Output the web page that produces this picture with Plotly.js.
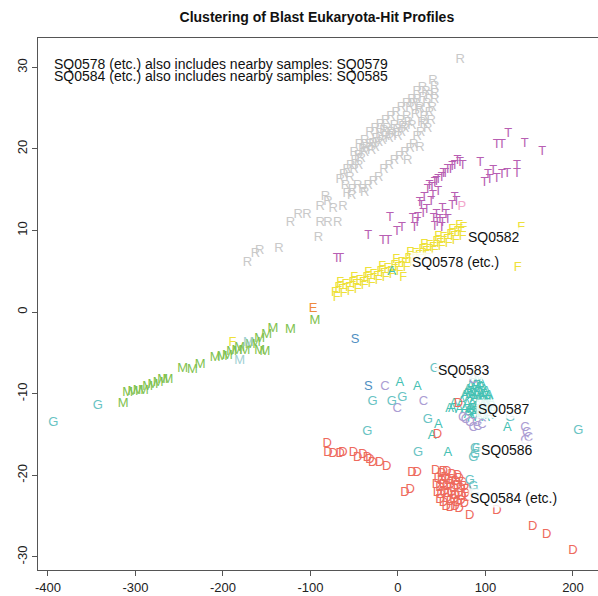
<!DOCTYPE html>
<html>
<head>
<meta charset="utf-8">
<script src="https://cdn.plot.ly/plotly-3.0.1.min.js"></script>
<style>html,body{margin:0;padding:0;background:#fff;}#chart{width:598px;height:596px;}</style>
</head>
<body>
<div id="chart"></div>
<script>
// ---- data ----
const R_x = [-172,-163,-158,-136,-91,-123,-114,-104,-89,-80,-69,-89,-83,-74,-63,-53,-38,-80,
  -66,-62,-58,-54,-49,-45,-40,-36,-32,-28.6,-25,-20.6,-16,-12.6,-8,-4,-1,3,5.7,10,16,13.7,18,21.7,25,27.4,28.6,32,36,
  -60,-55,-50,-45,-42,-38,-30,-26,-22,-18,-14,-10,-6,0,4,8,12,20,24,
  30,33,36,38,34,30,26,22,18,14,8,2,-4,-10,-16,-22,-28,-34,-40,-46,-52,-58,
  -50,-44,-38,-32,-26,-20,-14,-8,-2,4,10,16,22,28,
  11,25,40,42,42,42,39,71];
const R_y = [6.1,7.2,7.5,7.8,9.1,10.9,11.9,11.9,10.9,10.9,10.9,12.9,14.1,12.7,12.9,14.3,14.6,13.5,
  16.2,16.8,17.4,18,18.6,19.2,19.9,20.2,20.5,20.7,21.3,21.9,22.2,22.5,22.0,22.8,22.3,23.5,22.7,24,22.9,25.1,25.5,26,25,23.2,26.3,27,26.5,
  15.5,16.5,17.5,18,18.8,19.5,19.8,20.2,20.8,21,21.5,21.2,21.8,21.5,22,22.5,23.2,24.2,24.8,
  24,25.5,24.5,23.5,22.5,23,22,21.5,20.5,20,19.5,19,18.5,18,17.5,16.5,16,15.5,15,15.5,15,14.5,
  19.5,20.5,21,22,22.5,23,23.5,24,24.5,25,25.5,26,27,27.5,
  18.6,20.1,28.4,27.6,26.8,26,25,30.9];

const T_x = [-70,-66,-34,-17,-11,-1,4.6,-9,19,22,17,23,29,33,25,27,41,45,48,51,57,51,65,67,
  34,39,42,46,50,54,57,62,65,71,74,40,46,94,99,105,113,119,125,136,136,113,119,126,145,165,
  36,44,52,60,68,30,38,44,55,62,42,50,103,109];
const T_y = [6.6,6.6,9.4,8.8,8.8,9.8,10.4,11.6,10.3,10.9,11.5,11.6,12.1,12.5,13.4,13.1,11.4,11,11.3,10.9,11.3,12.7,14,13.5,
  15,15.3,15.8,16.2,16.5,17,17.4,17.8,18,18.3,18,14.3,14.7,18.3,15.9,16.2,16.4,16.8,17,18,17,20.5,20.5,21.9,20.7,19.6,
  15.5,16,17,17.5,18.5,14,13.5,12,12,13,10.5,10.3,16.8,17.3];

const P_x = [73];
const P_y = [12.9];

const F_x = [-72,-68,-64,-60,-56,-52,-48,-44,-40,-36,-32,-28,-24,-20,-16,-12,-8,-4,0,4,8,12,16,20,24,28,32,36,40,44,48,52,56,60,64,68,72,75,
  -70,-62,-54,-46,-38,-30,-22,-14,-6,2,10,18,26,34,42,50,58,66,74,
  -66,-50,-34,-18,-2,14,30,46,62,70,
  6,137,141,-189];
const F_y = [2.4,3.0,2.7,3.3,3.0,3.6,3.3,3.9,3.6,4.2,4.0,4.6,4.3,4.9,4.7,5.3,5.0,5.7,5.4,6.1,5.9,6.6,6.4,7.1,6.9,7.6,7.4,8.1,7.9,8.6,8.4,9.1,8.9,9.5,9.3,9.9,9.7,10.3,
  1.8,2.2,2.5,2.8,3.2,3.5,3.9,4.2,4.6,5.0,5.5,6.0,6.4,7.0,7.5,8.0,8.4,8.8,9.2,
  3.6,4.2,4.8,5.6,6.4,7.3,8.3,9.2,10.1,10.6,
  4.2,5.5,10.3,-3.7];

const E_x = [-97];
const E_y = [0.4];

const M_x = [-314,-309,-303,-297,-291,-286,-280,-274,-269,-263,-246,-235,-226,
  -209,-201,-195,-190,-184,-181,-175,-169,-163,-158,-152,-158,-150,-143,-123,-95];
const M_y = [-11.2,-9.9,-9.8,-9.6,-9.6,-9.2,-8.9,-8.6,-8.3,-8.3,-6.9,-7.1,-6.5,
  -5.6,-5.5,-5.3,-4.9,-4.7,-4.4,-4.7,-4.0,-3.8,-4.7,-4.9,-3.2,-2.8,-2.0,-2.1,-1.0];

const W_x = [-181,-171];
const W_y = [-5.9,-3.8];

const S_x = [-49,-34];
const S_y = [-3.4,-9.2];

const A_x = [2,22,46,39,59,62,57,125,-7,
  80,83,86,89,92,95,98,101,104,81,84,87,90,93,96,99,102,106,79,82,85,88,91,94,97,100,103,108,80,84,88,92,96,100,104,73,76,70,64,90,95,86,
  78,82,86,90,94,98,102,76,80,84,88,92,96,100];
const A_y = [-8.6,-9.2,-13.8,-15.1,-11.8,-11.8,-17.2,-14.2,4.9,
  -9.5,-9.2,-9.4,-9.0,-9.3,-9.1,-9.5,-9.8,-10.2,-10.5,-10.2,-10.6,-10.3,-10.7,-10.4,-10.9,-10.6,-11.0,-11.4,-11.8,-11.2,-11.6,-11.3,-11.9,-11.5,-12.0,-11.7,-12.1,-12.6,-12.9,-12.4,-12.8,-12.5,-13.0,-12.7,-11.0,-10.2,-12.0,-11.2,-8.4,-8.6,-8.2,
  -10.0,-9.8,-10.1,-9.7,-10.0,-10.2,-11.3,-11.9,-12.2,-12.0,-12.2,-12.1,-12.3,-11.4];

const C_x = [-15,-1,29,86,74,77,82,90,96,86,91,145,147,149,145];
const C_y = [-9.2,-11.8,-11.0,-8.3,-12.9,-13.2,-13.5,-13.6,-13.8,-14.2,-14.1,-14.2,-14.8,-15.4,-15.7];

const D_x = [-81,-80,-74,-66,-63,-51,-46,-40,-35,-32,-29,-21,-13,16,22,8,14,43,52,69,45,
  46,50,54,58,62,66,70,74,44,48,52,56,60,64,68,72,76,79,45,49,53,57,61,65,69,73,77,80,
  48,52,56,60,64,68,72,76,55,60,65,70,50,56,62,68,
  82,113,154,170,200];
const D_y = [-16.1,-17.2,-17.3,-17.3,-17.2,-17.2,-17.8,-17.5,-17.8,-18.1,-18.4,-18.4,-19.0,-19.7,-19.7,-22.1,-21.8,-19.4,-19.6,-11.2,-15.0,
  -20.4,-20.6,-20.3,-20.7,-20.5,-20.8,-20.4,-20.9,-21.2,-21.5,-21.1,-21.4,-21.2,-21.6,-21.3,-21.7,-21.4,-21.8,-22.1,-22.4,-22.0,-22.3,-22.1,-22.5,-22.2,-22.6,-22.3,-22.7,
  -23.0,-23.3,-22.9,-23.2,-23.0,-23.4,-23.1,-23.5,-23.8,-24.0,-23.9,-24.1,-19.8,-19.6,-19.9,-20.0,
  -24.9,-24.3,-26.3,-27.3,-29.2];

const G_x = [-394,-343,-29,-7,5,42,-35,34,23,88,90,128,206,82,86,88,88,86];
const G_y = [-13.6,-11.5,-11.0,-11.0,-10.5,-6.9,-14.7,-13.2,-17.2,-17.5,-16.7,-13.0,-14.5,-20.6,-21.4,-22.2,-16.7,-17.8];

const labelText = ['SQ0582','SQ0578 (etc.)','SQ0583','SQ0587','SQ0586','SQ0584 (etc.)'];
const labelX = [78,14,43,89,93,80];
const labelY = [9.2,6.1,-7.1,-11.9,-16.9,-22.8];

const noteLines = ['SQ0578 (etc.) also includes nearby samples: SQ0579',
                   'SQ0584 (etc.) also includes nearby samples: SQ0585'];
const xTicks = [-400,-300,-200,-100,0,100,200];
const yTicks = [-30,-20,-10,0,10,20,30];

// ---- groups (letter, data, colour) ----
const groups = [
  {L:'R', x:R_x, y:R_y, c:'#c9c9c9'},
  {L:'T', x:T_x, y:T_y, c:'#b85fb3'},
  {L:'P', x:P_x, y:P_y, c:'#f2a6cc'},
  {L:'F', x:F_x, y:F_y, c:'#eee13a'},
  {L:'E', x:E_x, y:E_y, c:'#ef8a3c'},
  {L:'M', x:M_x, y:M_y, c:'#7fc24e'},
  {L:'M', x:W_x, y:W_y, c:'#9fd0d4'},
  {L:'S', x:S_x, y:S_y, c:'#4f8fc2'},
  {L:'A', x:A_x, y:A_y, c:'#45c1b3'},
  {L:'C', x:C_x, y:C_y, c:'#ab9dd3'},
  {L:'D', x:D_x, y:D_y, c:'#ee6a5d'},
  {L:'G', x:G_x, y:G_y, c:'#68c3c3'}
];

const FONT = 'Liberation Sans, Arial, Helvetica, sans-serif';
const traces = groups.map(g => ({
  type:'scatter', mode:'text', x:g.x, y:g.y,
  text:g.x.map(() => g.L), textposition:'middle center',
  textfont:{family:FONT, size:13, color:g.c},
  hoverinfo:'skip', showlegend:false
}));

const annotations = labelText.map((t,i) => ({
  x:labelX[i], y:labelY[i], xref:'x', yref:'y', text:t, showarrow:false,
  xanchor:'left', yanchor:'middle', bgcolor:'rgba(255,255,255,0.85)', borderpad:1,
  font:{family:FONT, size:14, color:'#111'}
}));
noteLines.forEach((t,i) => annotations.push({
  x:0.025, y:0.951 - i*0.0225, xref:'paper', yref:'paper', text:t, showarrow:false,
  xanchor:'left', yanchor:'middle', font:{family:FONT, size:14, color:'#111'}
}));

const axisCommon = {
  showline:true, mirror:true, linecolor:'#555', linewidth:1,
  ticks:'outside', ticklen:5, tickcolor:'#555', tickwidth:1,
  showgrid:false, zeroline:false,
  tickfont:{family:FONT, size:13, color:'#222'}
};

const layout = {
  width:598, height:596,
  margin:{l:38, r:0, t:38, b:26, pad:0},
  paper_bgcolor:'#fff', plot_bgcolor:'#fff',
  title:{text:'<b>Clustering of Blast Eukaryota-Hit Profiles</b>', xref:'paper', x:0.498,
         yref:'container', y:0.971, yanchor:'middle', font:{family:FONT, size:14, color:'#111'}},
  xaxis:Object.assign({}, axisCommon, {range:[-411.4,228.6], tickmode:'array', tickvals:xTicks, ticktext:xTicks.map(String)}),
  yaxis:Object.assign({}, axisCommon, {range:[-31.6,33.6], tickmode:'array', tickvals:yTicks, ticktext:yTicks.map(String), tickangle:-90}),
  annotations:annotations,
  showlegend:false
};

Plotly.newPlot('chart', traces, layout, {staticPlot:true, displayModeBar:false});
</script>
</body>
</html>
